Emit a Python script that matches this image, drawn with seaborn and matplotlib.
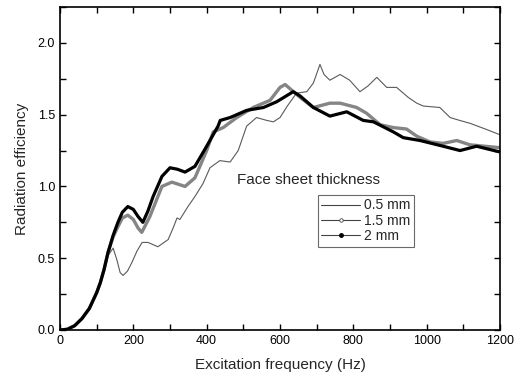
import numpy as np
import pandas as pd
import matplotlib
matplotlib.use("Agg")
import matplotlib.pyplot as plt
import seaborn as sns
from matplotlib.lines import Line2D
from matplotlib.ticker import MultipleLocator

# ---- data ----
common_f = [0, 20, 40, 60, 80, 100, 110, 120]
common_v = [0.0, 0.005, 0.03, 0.08, 0.15, 0.26, 0.33, 0.42]

f_05 = common_f + [131, 145, 155, 164, 172, 184, 196, 210, 224, 240, 267, 295, 310, 319, 327,
                   349, 368, 390, 409, 436, 464, 486, 509, 536, 564, 582, 600, 620, 645, 673,
                   691, 709, 720, 736, 764, 790, 818, 840, 864, 891, 918, 950, 973, 991, 1036,
                   1064, 1090, 1118, 1160, 1200]
v_05 = common_v + [0.52, 0.57, 0.49, 0.40, 0.38, 0.41, 0.47, 0.55, 0.61, 0.61, 0.58, 0.63, 0.72,
                   0.78, 0.77, 0.86, 0.93, 1.02, 1.13, 1.18, 1.17, 1.25, 1.42, 1.48, 1.46, 1.45,
                   1.48, 1.56, 1.65, 1.66, 1.72, 1.85, 1.78, 1.74, 1.78, 1.74, 1.66, 1.70, 1.76,
                   1.69, 1.69, 1.62, 1.58, 1.56, 1.55, 1.48, 1.46, 1.44, 1.40, 1.36]

f_15 = common_f + [131, 145, 158, 170, 185, 200, 213, 223, 245, 278, 305, 341, 368, 400, 418,
                   445, 482, 527, 573, 600, 614, 655, 691, 736, 764, 809, 836, 873, 909, 945,
                   973, 1009, 1045, 1082, 1118, 1200]
v_15 = common_v + [0.54, 0.65, 0.72, 0.78, 0.80, 0.77, 0.71, 0.68, 0.79, 1.00, 1.03, 1.00, 1.06,
                   1.25, 1.38, 1.41, 1.48, 1.55, 1.60, 1.69, 1.71, 1.62, 1.55, 1.58, 1.58, 1.55,
                   1.51, 1.43, 1.41, 1.40, 1.35, 1.31, 1.30, 1.32, 1.29, 1.27]

f_20 = common_f + [131, 145, 158, 170, 185, 200, 213, 226, 240, 254, 278, 300, 320, 341, 368,
                   400, 431, 437, 464, 509, 555, 591, 636, 655, 691, 736, 782, 827, 855, 909,
                   936, 982, 1045, 1091, 1136, 1200]
v_20 = common_v + [0.54, 0.66, 0.75, 0.82, 0.86, 0.84, 0.79, 0.75, 0.83, 0.93, 1.07, 1.13, 1.12,
                   1.10, 1.14, 1.28, 1.42, 1.46, 1.48, 1.53, 1.55, 1.59, 1.66, 1.63, 1.55, 1.49,
                   1.52, 1.46, 1.45, 1.38, 1.34, 1.32, 1.28, 1.25, 1.28, 1.24]

labels = ["0.5 mm", "1.5 mm", "2 mm"]

df = pd.concat([
    pd.DataFrame({"f": f_05, "v": v_05, "t": labels[0]}),
    pd.DataFrame({"f": f_15, "v": v_15, "t": labels[1]}),
    pd.DataFrame({"f": f_20, "v": v_20, "t": labels[2]}),
])

sns.set_style("white")
plt.rcParams["font.family"] = ["Liberation Sans", "DejaVu Sans"]

fig = plt.figure(figsize=(5.14, 3.84), dpi=100)
ax = fig.add_axes([60 / 514, 1 - 330 / 384, 440 / 514, 323 / 384])

styles = {
    labels[0]: dict(color="#5a5a5a", lw=0.8),
    labels[1]: dict(color="#858585", lw=2.4),
    labels[2]: dict(color="#000000", lw=2.3),
}
for lab in labels:
    sub = df[df["t"] == lab]
    sns.lineplot(data=sub, x="f", y="v", ax=ax, color=styles[lab]["color"],
                 linewidth=styles[lab]["lw"], legend=False, sort=False,
                 solid_joinstyle="round", solid_capstyle="round")

ax.set_xlim(0, 1200)
ax.set_ylim(0, 2.25)
ax.xaxis.set_major_locator(MultipleLocator(200))
ax.xaxis.set_minor_locator(MultipleLocator(100))
ax.yaxis.set_major_locator(MultipleLocator(0.5))
ax.yaxis.set_minor_locator(MultipleLocator(0.25))
ax.yaxis.set_major_formatter(matplotlib.ticker.FormatStrFormatter("%.1f"))
ax.tick_params(which="both", direction="in", top=True, right=True, bottom=True, left=True,
               length=4, width=1, colors="black", labelsize=9)
for s in ax.spines.values():
    s.set_color("black")
    s.set_linewidth(1.2)

ax.set_xlabel("Excitation frequency (Hz)", fontsize=11, labelpad=8)
ax.set_ylabel("Radiation efficiency", fontsize=11, labelpad=6)

ax.text(0.402, 0.465, "Face sheet thickness", transform=ax.transAxes, fontsize=11,
        ha="left", va="center")

handles = [
    Line2D([], [], color="#444444", lw=0.8),
    Line2D([], [], color="#444444", lw=0.8, marker="o", markersize=2.5,
           markerfacecolor="white", markeredgecolor="#444444", markeredgewidth=0.6),
    Line2D([], [], color="#444444", lw=0.8, marker="o", markersize=2.5,
           markerfacecolor="black", markeredgecolor="black"),
]
leg = ax.legend(handles, labels, loc="upper left", bbox_to_anchor=(0.586, 0.418),
                fontsize=10, frameon=True, fancybox=False, edgecolor="#444444",
                handlelength=2.8, handletextpad=0.3, borderpad=0.25, labelspacing=0.1,
                borderaxespad=0)
leg.get_frame().set_linewidth(0.8)

fig.savefig("out.png", dpi=100)
